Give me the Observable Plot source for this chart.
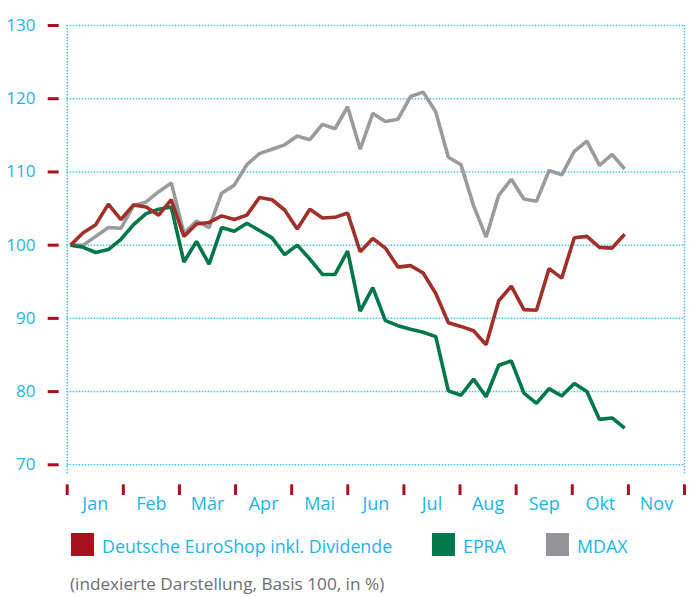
<!DOCTYPE html>
<html>
<head>
<meta charset="utf-8">
<script src="https://cdn.jsdelivr.net/npm/d3@7"></script>
<script src="https://cdn.jsdelivr.net/npm/@observablehq/plot@0.6"></script>
<style>
  html, body { margin: 0; padding: 0; background: #fff; }
  #wrap { position: relative; width: 692px; height: 596px; font-family: "Open Sans", sans-serif; }
  #chart svg { display: block; }
  .leg { position: absolute; top: 533px; display: flex; align-items: center; height: 23px; }
  .leg .sw { width: 23px; height: 23px; margin-right: 8px; }
  .leg span { color: #1db4e8; font-size: 17.8px; line-height: 23px; position: relative; top: 2px; white-space: nowrap; }
  #caption { position: absolute; left: 70px; top: 572px; color: #6d6e71; font-size: 17.2px; line-height: 24px; white-space: nowrap; }
</style>
</head>
<body>
<div id="wrap">
  <div id="chart"></div>
  <div class="leg" style="left:71px"><div class="sw" style="background:#a6101f"></div><span>Deutsche EuroShop inkl. Dividende</span></div>
  <div class="leg" style="left:432px"><div class="sw" style="background:#00774a"></div><span>EPRA</span></div>
  <div class="leg" style="left:546px"><div class="sw" style="background:#939598"></div><span>MDAX</span></div>
  <div id="caption">(indexierte Darstellung, Basis 100, in %)</div>
</div>
<script>
const months = ["Jan","Feb","Mär","Apr","Mai","Jun","Jul","Aug","Sep","Okt","Nov"];
const yTicks = [70, 80, 90, 100, 110, 120, 130];
const seriesNames = ["Deutsche EuroShop inkl. Dividende", "EPRA", "MDAX"];
const des = [100, 101.7, 102.8, 105.6, 103.5, 105.5, 105.2, 104.1, 106.2, 101.2, 102.9, 103.1, 104.0, 103.5, 104.1, 106.5, 106.2, 104.8, 102.2, 104.9, 103.7, 103.8, 104.4, 99.1, 100.9, 99.6, 97.0, 97.2, 96.2, 93.4, 89.4, 88.9, 88.3, 86.4, 92.4, 94.4, 91.2, 91.1, 96.8, 95.5, 101.0, 101.2, 99.7, 99.6, 101.5];
const epra = [100, 99.7, 99.0, 99.4, 100.8, 102.8, 104.3, 104.9, 105.2, 97.7, 100.5, 97.4, 102.4, 101.9, 103.0, 102.0, 101.0, 98.7, 100.0, 98.1, 96.0, 96.0, 99.2, 91.0, 94.2, 89.7, 89.0, 88.5, 88.1, 87.5, 80.1, 79.5, 81.7, 79.3, 83.6, 84.2, 79.8, 78.4, 80.4, 79.4, 81.1, 80.0, 76.2, 76.4, 75.0];
const mdax = [100, 100, 101.2, 102.4, 102.3, 105.4, 105.9, 107.3, 108.5, 101.6, 103.3, 102.4, 107.1, 108.2, 111.0, 112.5, 113.1, 113.7, 114.9, 114.4, 116.5, 115.9, 118.9, 113.1, 118.0, 116.9, 117.2, 120.3, 120.9, 118.2, 112.0, 111.0, 105.4, 101.1, 106.8, 109.0, 106.3, 106.0, 110.2, 109.6, 112.8, 114.2, 110.9, 112.4, 110.4];

// weekly observations placed on a month axis (0 = start of Jan)
const firstWeek = 0.06, weekStep = 0.2244;
const toRows = (arr, name) => arr.map((v, i) => ({t: firstWeek + i * weekStep, v, name}));
const rowsDes = toRows(des, seriesNames[0]);
const rowsEpra = toRows(epra, seriesNames[1]);
const rowsMdax = toRows(mdax, seriesNames[2]);

const cyan = "#1db4e8", grid = "#45c3ee", tickRed = "#a6101f";
const monthBounds = d3.range(0, months.length + 1);
const monthCenters = months.map((m, i) => i + 0.5);

const chart = Plot.plot({
  width: 692,
  height: 520,
  marginLeft: 66.7,
  marginRight: 8,
  marginTop: 25,
  marginBottom: 55.7,
  style: {fontFamily: "'Open Sans', sans-serif", background: "#fff"},
  x: {domain: [0, months.length], axis: null},
  y: {domain: [70, 130], axis: null},
  marks: [
    Plot.gridY(yTicks, {stroke: grid, strokeOpacity: 1, strokeWidth: 1.5, strokeDasharray: "1.5,1.5"}),
    Plot.ruleX([0, months.length], {y1: 130, y2: 68.6, stroke: grid, strokeWidth: 1.5, strokeDasharray: "1.5,1.5"}),
    Plot.axisY({ticks: yTicks, label: null, tickSize: 11, dx: -8, stroke: tickRed, strokeWidth: 3, tickFormat: () => ""}),
    Plot.axisY({ticks: yTicks, label: null, tickSize: 0, tickPadding: 31.7, fill: cyan, fontSize: 17, tickFormat: d => String(d)}),
    Plot.axisX({ticks: monthBounds, label: null, tickSize: 10.7, dy: 20, stroke: tickRed, strokeWidth: 3, tickFormat: () => ""}),
    Plot.axisX({ticks: monthCenters, label: null, tickSize: 0, tickPadding: 32, fill: cyan, fontSize: 18, tickFormat: d => months[Math.floor(d)]}),
    Plot.line(rowsMdax, {x: "t", y: "v", stroke: "#9a9b9d", strokeWidth: 3.6, strokeLinejoin: "miter", strokeLinecap: "butt"}),
    Plot.line(rowsEpra, {x: "t", y: "v", stroke: "#00774a", strokeWidth: 3.6, strokeLinejoin: "miter", strokeLinecap: "butt"}),
    Plot.line(rowsDes, {x: "t", y: "v", stroke: "#a2302a", strokeWidth: 3.6, strokeLinejoin: "miter", strokeLinecap: "butt"})
  ]
});
document.getElementById("chart").appendChild(chart);
</script>
</body>
</html>
